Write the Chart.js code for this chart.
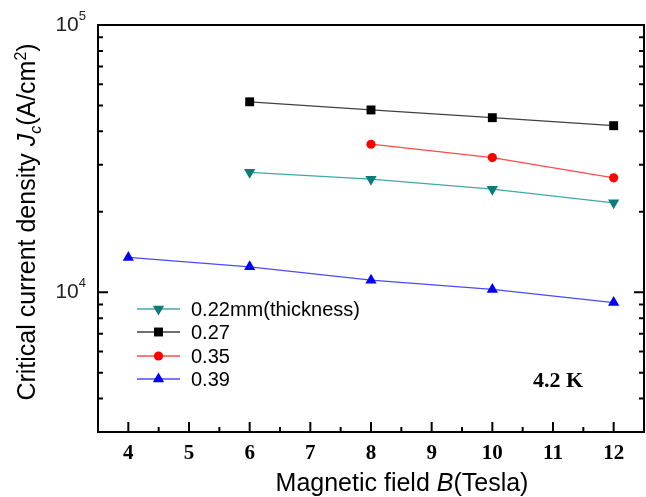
<!DOCTYPE html>
<html>
<head>
<meta charset="utf-8">
<script src="https://cdn.jsdelivr.net/npm/chart.js@4/dist/chart.umd.min.js"></script>
<style>
  body { margin: 0; background: #fff; }
  #wrap { width: 646px; height: 497px; position: relative; }
</style>
</head>
<body>
<div id="wrap"><canvas id="myChart"></canvas></div>
<script>
'use strict';

// *Data*
let fieldB = [4, 6, 8, 10, 12];
let jc022 = [null, 28100, 26500, 24300, 21600];
let jc027 = [null, 51600, 48100, 45000, 42000];
let jc035 = [null, null, 35800, 31900, 26800];
let jc039 = [13500, 12450, 11100, 10250, 9150];

let seriesLabels = ['0.22mm(thickness)', '0.27', '0.35', '0.39'];
let xTickLabels = ['4', '5', '6', '7', '8', '9', '10', '11', '12'];
let yMajorTicks = [10000, 100000];
let yMinorTicks = [3000, 4000, 5000, 6000, 7000, 8000, 9000, 20000, 30000, 40000, 50000, 60000, 70000, 80000, 90000];

function toPoints(values) {
  let pts = [];
  for (let i = 0; i < fieldB.length; i++) {
    if (values[i] !== null) {
      pts.push({ x: fieldB[i], y: values[i] });
    }
  }
  return pts;
}

function makeSet(label, values, line, marker, style, radius, rotation) {
  return {
    label: label,
    data: toPoints(values),
    showLine: true,
    borderColor: line,
    borderWidth: 1.3,
    backgroundColor: marker,
    pointBackgroundColor: marker,
    pointBorderColor: marker,
    pointBorderWidth: 0,
    pointStyle: style,
    pointRadius: radius,
    pointRotation: rotation || 0
  };
}

let datasets = [
  makeSet(seriesLabels[0], jc022, '#40a8a8', '#0e7b7b', 'triangle', 6.5, 180),
  makeSet(seriesLabels[1], jc027, '#404040', '#000000', 'rect', 6.3),
  makeSet(seriesLabels[2], jc035, '#ff4a4a', '#ff0000', 'circle', 4.6),
  makeSet(seriesLabels[3], jc039, '#4a4aff', '#0000ff', 'triangle', 6.5)
];

// draws a run of text pieces {t, font, dy} starting at (x, y)
function drawRuns(ctx, runs, x, y) {
  let cx = x;
  for (let r of runs) {
    ctx.font = r.font;
    ctx.fillText(r.t, cx, y + (r.dy || 0));
    cx += ctx.measureText(r.t).width;
  }
  return cx - x;
}

function runsWidth(ctx, runs) {
  let w = 0;
  for (let r of runs) {
    ctx.font = r.font;
    w += ctx.measureText(r.t).width;
  }
  return w;
}

const frameAndText = {
  id: 'frameAndText',
  afterDraw(chart) {
    const ctx = chart.ctx;
    const a = chart.chartArea;
    const xs = chart.scales.x;
    const ys = chart.scales.y;
    ctx.save();
    ctx.strokeStyle = '#000';
    ctx.fillStyle = '#000';

    // frame
    ctx.lineWidth = 2;
    ctx.strokeRect(a.left, a.top, a.right - a.left, a.bottom - a.top);

    // x ticks (inward)
    ctx.lineWidth = 2;
    ctx.beginPath();
    for (let i = 0; i < xTickLabels.length; i++) {
      let v = Number(xTickLabels[i]);
      let px = xs.getPixelForValue(v);
      ctx.moveTo(px, a.bottom);
      ctx.lineTo(px, a.bottom - 10);
      let half = xs.getPixelForValue(v + 0.5);
      if (half < a.right - 2) {
        ctx.moveTo(half, a.bottom);
        ctx.lineTo(half, a.bottom - 5);
      }
    }
    ctx.stroke();

    // y ticks, left and right
    ctx.beginPath();
    for (let v of yMajorTicks) {
      let py = ys.getPixelForValue(v);
      if (py > a.top + 2) {
        ctx.moveTo(a.left, py); ctx.lineTo(a.left + 10, py);
        ctx.moveTo(a.right, py); ctx.lineTo(a.right - 10, py);
      }
    }
    for (let v of yMinorTicks) {
      let py = ys.getPixelForValue(v);
      if (py < a.bottom - 2) {
        ctx.moveTo(a.left, py); ctx.lineTo(a.left + 5, py);
        ctx.moveTo(a.right, py); ctx.lineTo(a.right - 5, py);
      }
    }
    ctx.stroke();

    // x tick labels
    ctx.font = 'bold 21px "Liberation Serif"';
    ctx.textAlign = 'center';
    ctx.textBaseline = 'middle';
    for (let lab of xTickLabels) {
      ctx.fillText(lab, xs.getPixelForValue(Number(lab)), a.bottom + 22);
    }

    // y tick labels 10^4, 10^5
    ctx.textAlign = 'left';
    ctx.textBaseline = 'middle';
    for (let v of yMajorTicks) {
      let py = ys.getPixelForValue(v);
      let exp = String(Math.round(Math.log10(v)));
      let runs = [
        { t: '10', font: '21px "Liberation Sans"' },
        { t: exp, font: '13px "Liberation Sans"', dy: -9 }
      ];
      let w = runsWidth(ctx, runs);
      ctx.fillStyle = '#222';
      drawRuns(ctx, runs, a.left - 12 - w, py);
    }
    ctx.fillStyle = '#000';

    // x axis title
    ctx.textBaseline = 'alphabetic';
    let xRuns = [
      { t: 'Magnetic field ', font: '25px "Liberation Sans"' },
      { t: 'B', font: 'italic 25px "Liberation Sans"' },
      { t: '(Tesla)', font: '25px "Liberation Sans"' }
    ];
    let xw = runsWidth(ctx, xRuns);
    drawRuns(ctx, xRuns, 402 - xw / 2, 491);

    // y axis title
    let yRuns = [
      { t: 'Critical current density ', font: '25px "Liberation Sans"' },
      { t: 'J', font: 'italic 25px "Liberation Sans"' },
      { t: 'c', font: 'italic 16px "Liberation Sans"', dy: 6 },
      { t: '(A/cm', font: '25px "Liberation Sans"' },
      { t: '2', font: '16px "Liberation Sans"', dy: -9 },
      { t: ')', font: '25px "Liberation Sans"' }
    ];
    let yw = runsWidth(ctx, yRuns);
    ctx.save();
    ctx.translate(35, 222);
    ctx.rotate(-Math.PI / 2);
    drawRuns(ctx, yRuns, -yw / 2, 0);
    ctx.restore();

    // legend inside the plot
    let rowY = [309, 332, 356, 379];
    ctx.textBaseline = 'middle';
    for (let i = 0; i < chart.data.datasets.length; i++) {
      let ds = chart.data.datasets[i];
      let yy = rowY[i];
      ctx.strokeStyle = ds.borderColor;
      ctx.lineWidth = 1.3;
      ctx.beginPath();
      ctx.moveTo(137, yy);
      ctx.lineTo(180, yy);
      ctx.stroke();
      ctx.fillStyle = ds.pointBackgroundColor;
      Chart.helpers.drawPoint(ctx, {
        pointStyle: ds.pointStyle,
        rotation: ds.pointRotation,
        radius: ds.pointRadius,
        borderWidth: 0
      }, 158.5, yy);
      ctx.fillStyle = '#000';
      ctx.font = '20px "Liberation Sans"';
      ctx.textAlign = 'left';
      ctx.fillText(ds.label, 191, yy + 1);
    }

    // temperature note
    ctx.font = 'bold 22px "Liberation Serif"';
    ctx.textAlign = 'center';
    ctx.fillText('4.2 K', 558, 381);

    ctx.restore();
  }
};

const ctx = document.getElementById('myChart');

new Chart(ctx, {
  type: 'scatter',
  data: { datasets: datasets },
  options: {
    responsive: true,
    maintainAspectRatio: false,
    animation: false,
    layout: { autoPadding: false, padding: { left: 98, top: 25, right: 2, bottom: 65 } },
    plugins: {
      legend: { display: false },
      tooltip: { enabled: false }
    },
    scales: {
      x: { type: 'linear', min: 3.5, max: 12.5, display: false },
      y: { type: 'logarithmic', min: 3000, max: 100000, display: false }
    }
  },
  plugins: [frameAndText]
});
</script>
</body>
</html>
